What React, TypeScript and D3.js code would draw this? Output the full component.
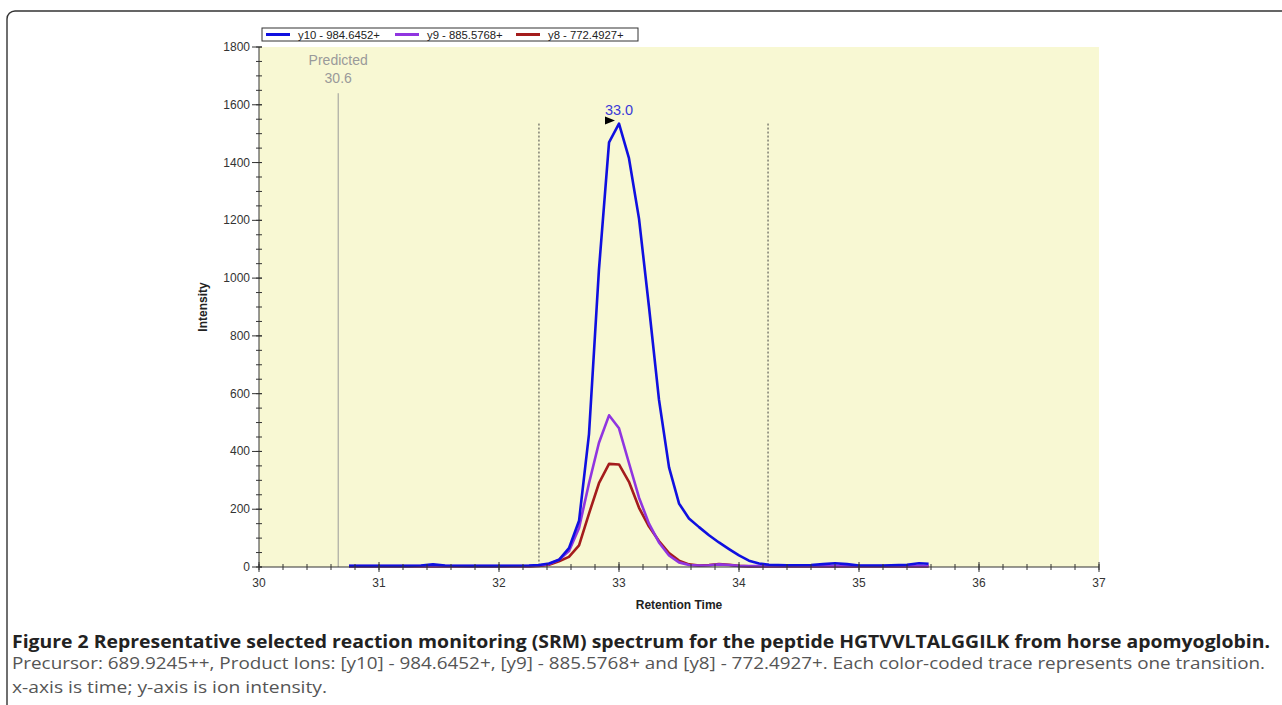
import React from "react";
import * as d3 from "d3";

const times = [30.75, 31.0, 31.25, 31.35, 31.45, 31.55, 31.75, 32.0, 32.25, 32.333, 32.417, 32.5, 32.583, 32.667, 32.75, 32.833, 32.917, 33.0, 33.083, 33.167, 33.25, 33.333, 33.417, 33.5, 33.583, 33.667, 33.75, 33.833, 33.917, 34.0, 34.083, 34.167, 34.25, 34.4, 34.6, 34.7, 34.8, 34.9, 35.0, 35.2, 35.4, 35.5, 35.58];
const y10 = [4, 4, 4, 5, 9, 5, 4, 4, 5, 7, 12, 25, 65, 160, 460, 1030, 1470, 1535, 1415, 1205, 900, 580, 345, 220, 168, 138, 110, 85, 62, 40, 22, 12, 8, 6, 7, 10, 13, 10, 5, 5, 8, 13, 11];
const y9 = [3, 3, 3, 3, 4, 3, 3, 3, 3, 5, 10, 25, 55, 135, 290, 430, 525, 480, 360, 240, 150, 85, 40, 16, 7, 5, 6, 9, 7, 4, 3, 3, 3, 3, 3, 3, 3, 3, 3, 3, 3, 3, 3];
const y8 = [2, 2, 2, 2, 3, 2, 2, 2, 2, 4, 8, 20, 35, 75, 185, 290, 357, 355, 295, 205, 140, 90, 48, 22, 9, 5, 7, 10, 8, 4, 2, 2, 2, 2, 2, 2, 2, 2, 2, 2, 2, 2, 2];

const seriesNames = ["y10 - 984.6452+", "y9 - 885.5768+", "y8 - 772.4927+"];
const seriesColors = ["#1010e0", "#9035e0", "#a41c1c"];
const xTicks = [30, 31, 32, 33, 34, 35, 36, 37];
const yTicks = [0, 200, 400, 600, 800, 1000, 1200, 1400, 1600, 1800];
const predictedTime = 30.66;
const peakStart = 32.333;
const peakEnd = 34.242;
const peakTime = 33.0;
const peakValue = 1535;
const predictedTop = 1640;

const captionBold = "Figure 2 Representative selected reaction monitoring (SRM) spectrum for the peptide HGTVVLTALGGILK from horse apomyoglobin.";
const captionLine2 = "Precursor: 689.9245++, Product Ions: [y10] - 984.6452+, [y9] - 885.5768+ and [y8] - 772.4927+. Each color-coded trace represents one transition.";
const captionLine3 = "x-axis is time; y-axis is ion intensity.";

export default function App() {
  const x = d3.scaleLinear().domain([30, 37]).range([259, 1099]);
  const y = d3.scaleLinear().domain([0, 1800]).range([567, 47]);
  const line = d3
    .line<[number, number]>()
    .x((d) => x(d[0]))
    .y((d) => y(d[1]));
  const series = [y10, y9, y8];
  const drawOrder = [2, 1, 0];
  const xMinor = d3.range(30, 37.001, 0.2);
  const yMinor = d3.range(0, 1800.1, 50);
  const font = "'Liberation Sans', Arial, sans-serif";
  const px = x(peakTime);
  const py = y(peakValue);

  return (
    <svg width={1282} height={705} style={{ position: "absolute", left: 0, top: 0 }} fontFamily={font}>
      <rect x={0} y={0} width={1282} height={705} fill="#ffffff" />
      {/* frame */}
      <path d="M7,705 L7,19 A8,8 0 0 1 15,11 L1282,11" fill="none" stroke="#333" strokeWidth={1.4} />
      {/* plot bg */}
      <rect x={x(30)} y={y(1800)} width={x(37) - x(30)} height={y(0) - y(1800)} fill="#f8f8d3" />

      {/* predicted */}
      <line x1={x(predictedTime)} x2={x(predictedTime)} y1={y(predictedTop)} y2={y(0)} stroke="#9a9a9a" strokeWidth={1} />
      <text x={x(predictedTime)} y={65} textAnchor="middle" fontSize={14} fill="#9a9a9a">Predicted</text>
      <text x={x(predictedTime)} y={83} textAnchor="middle" fontSize={14} fill="#9a9a9a">30.6</text>

      {/* peak boundaries */}
      {[peakStart, peakEnd].map((t) => (
        <line key={t} x1={x(t)} x2={x(t)} y1={py} y2={y(0)} stroke="#444" strokeWidth={1} strokeDasharray="2,2" />
      ))}

      {/* series */}
      {drawOrder.map((i) => (
        <path
          key={i}
          d={line(times.map((t, k) => [t, series[i][k]] as [number, number])) || ""}
          fill="none"
          stroke={seriesColors[i]}
          strokeWidth={2.6}
          strokeLinejoin="round"
        />
      ))}

      {/* peak label */}
      <text x={px} y={115} textAnchor="middle" fontSize={14.5} fill="#3a3ad8">33.0</text>
      <path d={`M${px - 14},${py - 7} L${px - 4},${py - 3} L${px - 14},${py + 1} Z`} fill="#000" />

      {/* axes */}
      <line x1={x(30)} x2={x(37)} y1={y(0)} y2={y(0)} stroke="#333" strokeWidth={1} />
      <line x1={x(30)} x2={x(30)} y1={y(0)} y2={y(1800)} stroke="#333" strokeWidth={1} />
      {xMinor.map((t, i) => (
        <line key={"xm" + i} x1={x(t)} x2={x(t)} y1={y(0) - 3} y2={y(0) + 3} stroke="#333" strokeWidth={1} />
      ))}
      {xTicks.map((t) => (
        <g key={"xt" + t}>
          <line x1={x(t)} x2={x(t)} y1={y(0) - 5} y2={y(0) + 5} stroke="#333" strokeWidth={1} />
          <text x={x(t)} y={587} textAnchor="middle" fontSize={12} fill="#333">{t}</text>
        </g>
      ))}
      {yMinor.map((v, i) => (
        <line key={"ym" + i} x1={x(30) - 3} x2={x(30) + 3} y1={y(v)} y2={y(v)} stroke="#333" strokeWidth={1} />
      ))}
      {yTicks.map((v) => (
        <g key={"yt" + v}>
          <line x1={x(30) - 7} x2={x(30) + 3} y1={y(v)} y2={y(v)} stroke="#333" strokeWidth={1} />
          <text x={250} y={y(v) + 4} textAnchor="end" fontSize={12} fill="#333">{v}</text>
        </g>
      ))}
      <text x={(x(30) + x(37)) / 2} y={609} textAnchor="middle" fontSize={12} fontWeight="bold" fill="#222">Retention Time</text>
      <text transform={`translate(207,${(y(0) + y(1800)) / 2}) rotate(-90)`} textAnchor="middle" fontSize={12} fontWeight="bold" fill="#222">Intensity</text>

      {/* legend */}
      <rect x={262} y={28} width={376} height={13} fill="#fff" stroke="#333" strokeWidth={1} />
      {seriesNames.map((n, i) => {
        const lx = [266, 395, 516][i];
        return (
          <g key={n}>
            <line x1={lx} x2={lx + 24} y1={34.5} y2={34.5} stroke={seriesColors[i]} strokeWidth={3} />
            <text x={lx + 32} y={38.5} fontSize={11.3} fill="#222">{n}</text>
          </g>
        );
      })}

      {/* caption */}
      <text x={12} y={648} fontFamily="'Open Sans', sans-serif" fontSize={17} fontWeight="bold" fill="#222" textLength={1258} lengthAdjust="spacingAndGlyphs">{captionBold}</text>
      <text x={12} y={669} fontFamily="'Open Sans', sans-serif" fontSize={16} fill="#555" textLength={1253} lengthAdjust="spacingAndGlyphs">{captionLine2}</text>
      <text x={12} y={693} fontFamily="'Open Sans', sans-serif" fontSize={16} fill="#555" textLength={315} lengthAdjust="spacingAndGlyphs">{captionLine3}</text>
    </svg>
  );
}
